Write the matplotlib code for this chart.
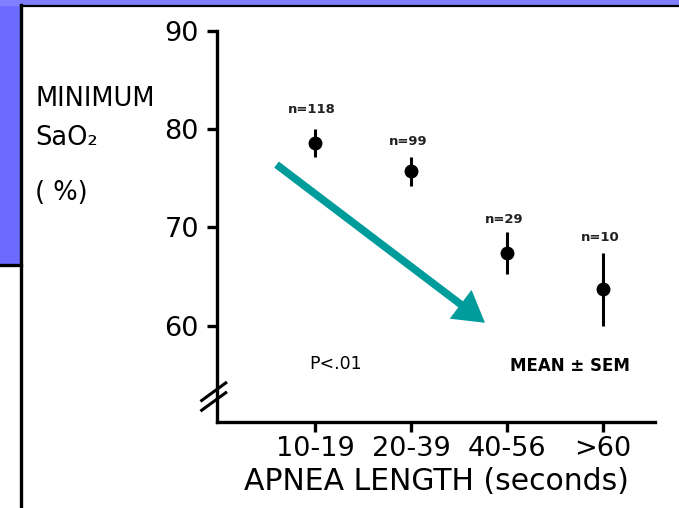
import matplotlib
matplotlib.use("Agg")
from matplotlib import pyplot as plt
from matplotlib.patches import Rectangle
from matplotlib.lines import Line2D

plt.rcParams['font.family'] = ['DejaVu Sans']

groups = ["10-19", "20-39", "40-56", ">60"]
mean_sao2 = [78.6, 75.7, 67.4, 63.7]
sem_sao2 = [1.4, 1.5, 2.1, 3.7]
n_labels = ["n=118", "n=99", "n=29", "n=10"]
n_offsets = [3.4, 3.1, 3.4, 5.25]

W, H = 679, 508
fig = plt.figure(figsize=(W / 100, H / 100), dpi=100)

# slide background: purple strips and black frame of the white panel
fig.patches.append(Rectangle((0, 1 - 265 / H), 20 / W, 265 / H, transform=fig.transFigure,
                             color='#6b6bff', zorder=0))
fig.patches.append(Rectangle((0, 1 - 5 / H), 1, 5 / H, transform=fig.transFigure,
                             color='#7f7fff', zorder=0))
fig.lines.append(Line2D([21 / W, 21 / W], [0, 1 - 5 / H], transform=fig.transFigure,
                        color='black', lw=2.4))
fig.lines.append(Line2D([21 / W, 1], [1 - 5.5 / H, 1 - 5.5 / H], transform=fig.transFigure,
                        color='black', lw=1.6))
fig.lines.append(Line2D([0, 21 / W], [1 - 265 / H, 1 - 265 / H], transform=fig.transFigure,
                        color='black', lw=2.4))

ax = fig.add_axes([217 / W, 86 / H, 438 / W, 391 / H])
x = list(range(len(groups)))
ax.errorbar(x, mean_sao2, yerr=sem_sao2, fmt='o', color='black', ms=9,
            elinewidth=2.2, capsize=0, clip_on=False)
for xi, m, lab, off in zip(x, mean_sao2, n_labels, n_offsets):
    ax.text(xi - 0.03, m + off, lab, ha='center', va='center', fontsize=9.5,
            fontweight='bold', color='#222222')

ax.set_xlim(-1.02, 3.54)
ax.set_ylim(50.2, 90)
ax.set_yticks([60, 70, 80, 90])
ax.set_xticks(x)
ax.set_xticklabels(groups)
for s in ['top', 'right']:
    ax.spines[s].set_visible(False)
for s in ['left', 'bottom']:
    ax.spines[s].set_linewidth(2.4)
ax.tick_params(axis='both', direction='out', length=7, width=2.4, labelsize=19.5)
ax.tick_params(axis='y', pad=6)
ax.tick_params(axis='x', pad=3)

# axis break marks on the y axis
for dy in (0.0, 0.025):
    ax.plot([-0.035, 0.02], [0.03 + dy, 0.075 + dy], transform=ax.transAxes,
            color='black', lw=2.2, clip_on=False)

ax.text(0.21, 0.148, "P<.01", transform=ax.transAxes, fontsize=12.5, va='center')
ax.text(0.806, 0.143, "MEAN \u00b1 SEM", transform=ax.transAxes, fontsize=12,
        fontweight='bold', ha='center', va='center')

ax.set_xlabel("APNEA LENGTH (seconds)", fontsize=21.5, labelpad=4)

fig.text(35 / W, 1 - 99 / H, "MINIMUM", fontsize=18.5, va='center')
fig.text(35 / W, 1 - 138 / H, "SaO\u2082", fontsize=18.5, va='center')
fig.text(35 / W, 1 - 193 / H, "( %)", fontsize=18.5, va='center')

# trend arrow
ax.annotate("", xy=(1.77, 60.3), xytext=(-0.4, 76.4),
            arrowprops=dict(arrowstyle='simple,head_length=2.2,head_width=2.6,tail_width=0.55',
                            mutation_scale=10, fc='#009c9c', ec='none',
                            shrinkA=0, shrinkB=0))

fig.savefig("out.png", dpi=100)
